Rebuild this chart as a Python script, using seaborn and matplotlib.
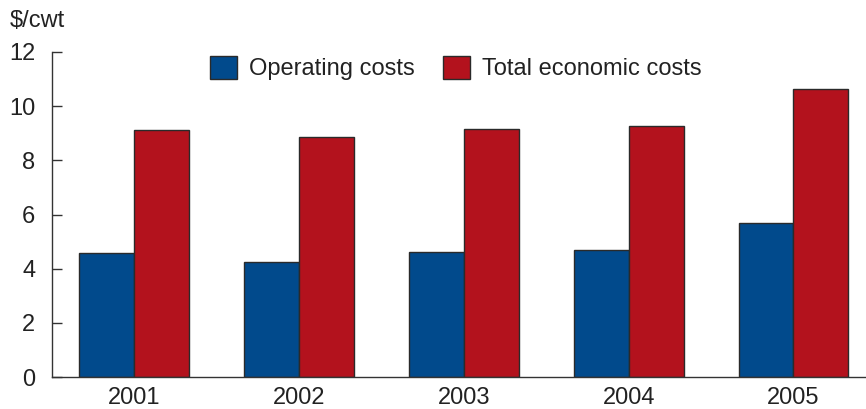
import matplotlib
matplotlib.use("Agg")
import matplotlib.pyplot as plt
import seaborn as sns
import pandas as pd

years = ["2001", "2002", "2003", "2004", "2005"]
operating_costs = [4.59, 4.26, 4.60, 4.69, 5.68]
total_economic_costs = [9.12, 8.87, 9.16, 9.28, 10.63]
series_names = ["Operating costs", "Total economic costs"]
y_ticks = [0, 2, 4, 6, 8, 10, 12]

df = pd.DataFrame({
    "year": years * 2,
    "value": operating_costs + total_economic_costs,
    "series": [series_names[0]] * len(years) + [series_names[1]] * len(years),
})

sns.set_style("white")
plt.rcParams["font.family"] = ["Liberation Sans", "DejaVu Sans"]

fig = plt.figure(figsize=(8.66, 4.09), dpi=100)
ax = fig.add_axes([52 / 866, 1 - 377 / 409, 1 - 52 / 866, (377 - 52) / 409])

palette = {series_names[0]: "#014a8c", series_names[1]: "#b3121d"}
sns.barplot(data=df, x="year", y="value", hue="series", palette=palette,
            width=0.667, edgecolor="#2a2a2a", linewidth=1.0, saturation=1,
            ax=ax)

ax.set_ylim(0, 12)
ax.set_xlim(-0.5, 4.44)
ax.set_yticks(y_ticks)
ax.set_yticklabels([str(t) for t in y_ticks], fontsize=17, color="#222222")
ax.tick_params(axis="y", direction="in", length=7, width=1, color="#333333", pad=12, left=True)
ax.tick_params(axis="x", length=0, labelsize=17, labelcolor="#222222", pad=7.5)
ax.set_xlabel("")
ax.set_ylabel("")
for s in ["top", "right"]:
    ax.spines[s].set_visible(False)
for s in ["left", "bottom"]:
    ax.spines[s].set_color("#333333")
    ax.spines[s].set_linewidth(1.0)

leg = ax.legend(loc="center", bbox_to_anchor=(0.496, 0.951), ncol=2, frameon=False,
                fontsize=17, handlelength=1.15, handleheight=1.15, handletextpad=0.5,
                columnspacing=1.2, labelcolor="#222222", borderaxespad=0)

fig.text(10 / 866, 1 - 21 / 409, "$/cwt", fontsize=17, color="#222222", va="center", ha="left")

fig.savefig("out.png", dpi=100)
